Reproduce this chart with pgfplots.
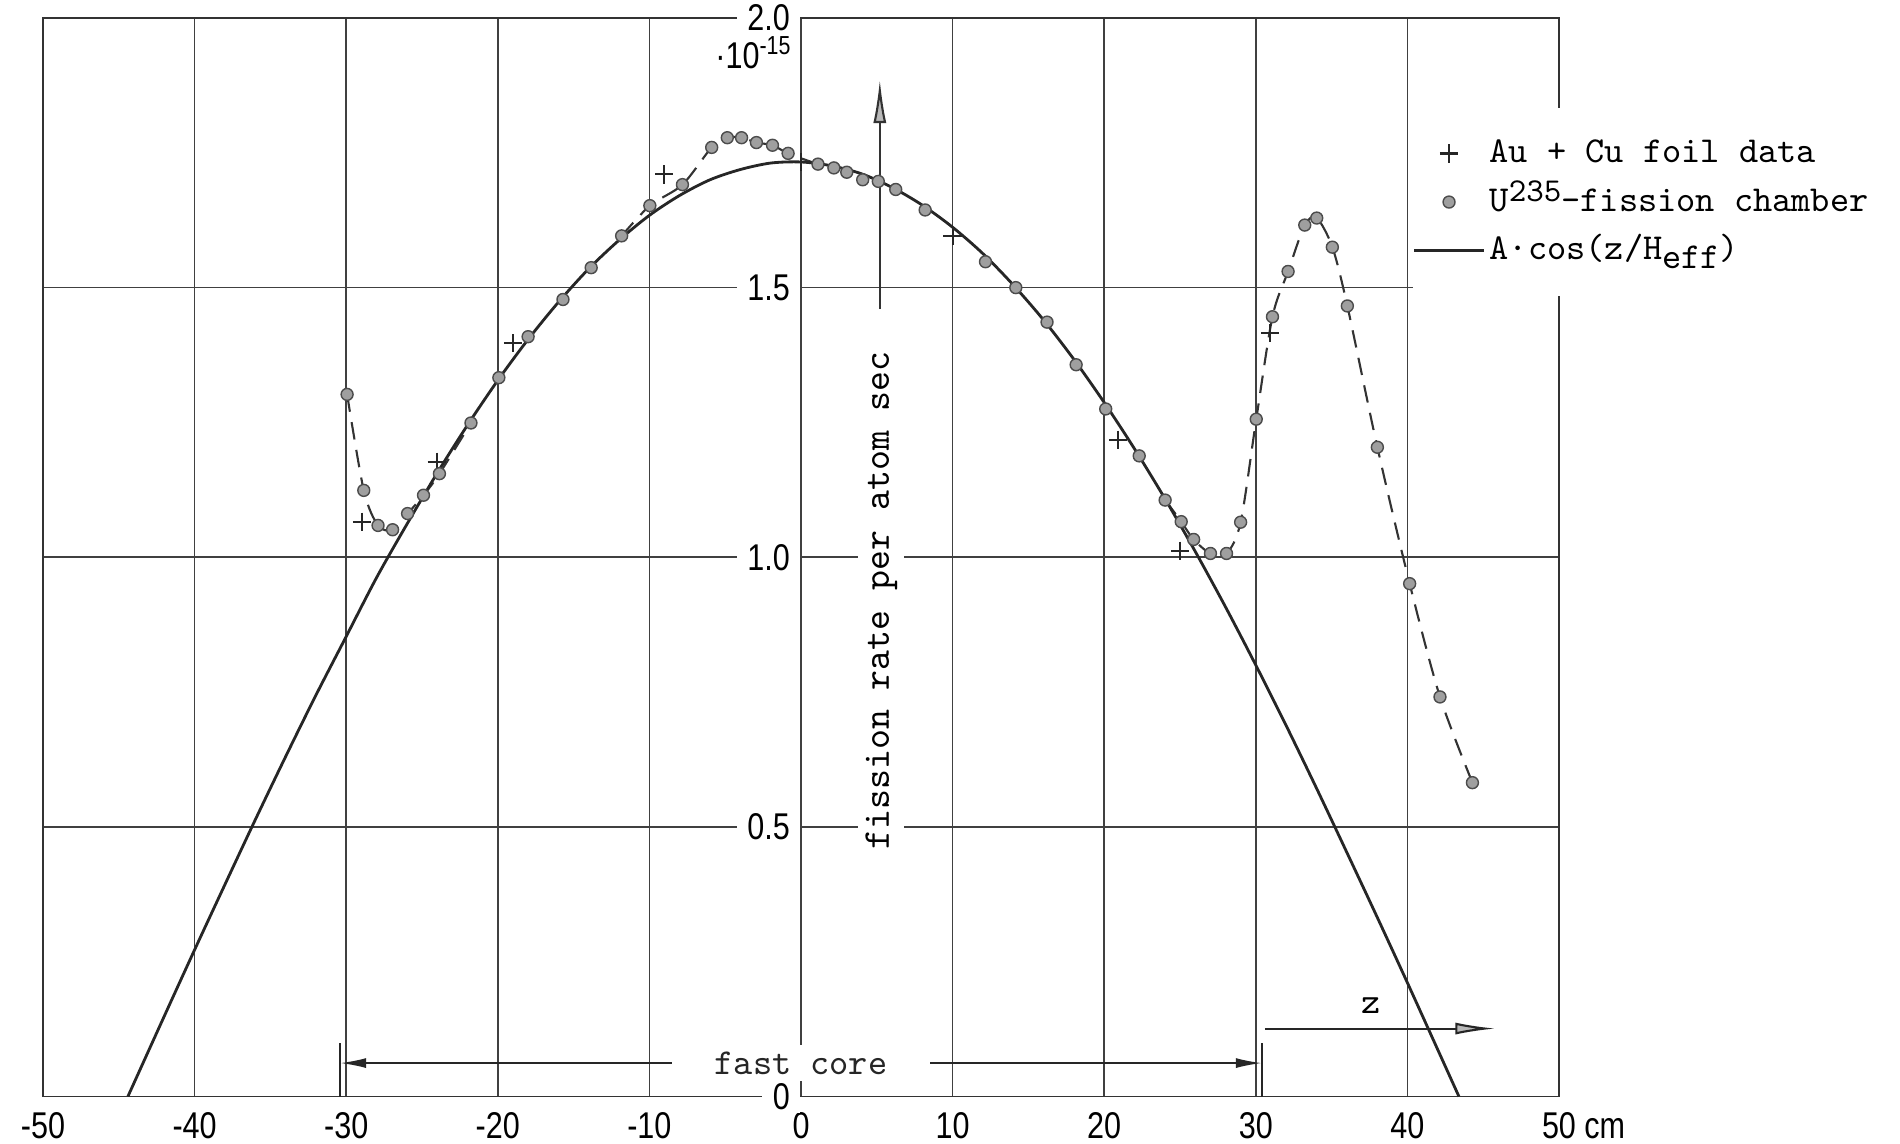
\documentclass[border=0pt]{standalone}
\usepackage{fontspec}
\usepackage{pgfplots}
\pgfplotsset{compat=1.18}
\usetikzlibrary{arrows.meta}
\newfontfamily\tickfont{Liberation Sans}[FakeStretch=0.82]
\newcommand\labfont{\fontsize{10.4}{12}\ttfamily}

\begin{document}
\begin{tikzpicture}
\path[use as bounding box] (0,0) rectangle (19cm,11.43cm);
\begin{axis}[
  at={(0.43cm,0.465cm)}, anchor=south west,
  scale only axis, width=15.16cm, height=10.785cm,
  xmin=-50, xmax=50, ymin=0, ymax=2,
  xtick={-50,-40,...,50},
  xticklabels={-50,-40,-30,-20,-10,0,10,20,30,40,50\rlap{ cm}},
  ytick={0,0.5,1,1.5,2},
  yticklabels={0,0.5,1.0,1.5,2.0},
  grid=major,
  grid style={black!75, line width=0.45pt},
  axis line style={black!80, line width=0.5pt},
  major tick length=0pt,
  tick label style={font=\fontsize{10.6}{12}\tickfont},
  xticklabel style={yshift=-1pt},
  yticklabel style={anchor=east, xshift=7.58cm, fill=white, inner xsep=3pt, inner ysep=1pt},
  clip=false,
  legend style={draw=none, fill=white, at={(axis cs:40.3,1.834)}, anchor=north west,
    font=\labfont, inner xsep=0pt, inner ysep=6pt, row sep=0pt,
    cells={anchor=west}, nodes={inner sep=1.2pt, text height=8.3pt, text depth=3.1pt}},
  legend image code/.code={\draw[mark repeat=2,mark phase=2,#1]
    plot coordinates {(0cm,0cm) (0.35cm,0cm) (0.7cm,0cm)};},
]

% dashed lines through the chamber points where they leave the cosine
\addplot[forget plot, black!80, line width=0.6pt, dash pattern=on 5pt off 3pt, smooth] coordinates {
  (-29.94,1.302) (-28.84,1.124) (-27.90,1.059) (-26.94,1.051) (-25.95,1.081)
  (-24.90,1.115) (-23.85,1.155) (-21.77,1.249)
};
\addplot[forget plot, black!80, line width=0.6pt, dash pattern=on 5pt off 3pt, smooth] coordinates {
  (-11.83,1.596) (-9.97,1.652) (-7.82,1.691) (-5.89,1.760) (-4.86,1.778)
  (-3.92,1.778) (-2.94,1.769) (-1.88,1.764) (-0.85,1.749) (1.12,1.729) (2.17,1.722)
};
\addplot[forget plot, black!80, line width=0.6pt, dash pattern=on 5pt off 3pt, smooth] coordinates {
  (24.02,1.106) (25.08,1.066) (25.90,1.033) (27.01,1.007) (28.07,1.007)
  (29.00,1.065) (30.03,1.256) (31.10,1.446) (32.13,1.530) (33.23,1.616)
  (34.02,1.629) (35.05,1.575) (36.04,1.466) (38.02,1.204) (40.15,0.951)
  (42.15,0.741) (44.29,0.582)
};

% A cos(z/H_eff)
\addplot[forget plot, black!85, line width=0.8pt, smooth] coordinates {
  (-44.4,0) (-42,0.149) (-40,0.272) (-38,0.393) (-36,0.513) (-34,0.630)
  (-32,0.744) (-30,0.853) (-28,0.962) (-26,1.061) (-24,1.156) (-22,1.245)
  (-20,1.328) (-18,1.404) (-16,1.473) (-14,1.535) (-12,1.588) (-10,1.634)
  (-8,1.671) (-6,1.700) (-4,1.719) (-2,1.731) (0,1.733) (2,1.726) (4,1.711)
  (6,1.686) (8,1.653) (10,1.612) (12,1.563) (14,1.505) (16,1.440) (18,1.367)
  (20,1.287) (22,1.201) (24,1.109) (26,1.011) (28,0.908) (30,0.800)
  (32,0.688) (34,0.572) (36,0.453) (38,0.333) (40,0.211) (42,0.087) (43.4,0)
};

% Au + Cu foil data
\addplot[forget plot, only marks, mark=+, mark size=2.6pt, mark options={black!85, line width=0.6pt}] coordinates {
  (-28.95,1.066) (-24.03,1.177) (-18.99,1.397) (-9.02,1.710) (0,1.733)
  (10.0,1.596) (20.92,1.218) (25.02,1.012) (30.95,1.416)
};

% U235 fission chamber
\addplot[forget plot, only marks, mark=*, mark size=1.7pt, mark options={fill=gray!75, draw=black!70, line width=0.4pt}] coordinates {
  (-29.94,1.302) (-28.84,1.124) (-27.90,1.059) (-26.94,1.051) (-25.95,1.081)
  (-24.90,1.115) (-23.85,1.155) (-21.77,1.249) (-19.93,1.333) (-18.00,1.409)
  (-15.70,1.478) (-13.84,1.537) (-11.83,1.596) (-9.97,1.652) (-7.82,1.691)
  (-5.89,1.760) (-4.86,1.778) (-3.92,1.778) (-2.94,1.769) (-1.88,1.764)
  (-0.85,1.749) (1.12,1.729) (2.17,1.722) (3.02,1.714) (4.07,1.700)
  (5.10,1.697) (6.25,1.682) (8.19,1.644) (12.17,1.548) (14.17,1.500)
  (16.23,1.436) (18.15,1.357) (20.10,1.275) (22.31,1.188) (24.02,1.106)
  (25.08,1.066) (25.90,1.033) (27.01,1.007) (28.07,1.007) (29.00,1.065)
  (30.03,1.256) (31.10,1.446) (32.13,1.530) (33.23,1.616) (34.02,1.629)
  (35.05,1.575) (36.04,1.466) (38.02,1.204) (40.15,0.951) (42.15,0.741)
  (44.29,0.582)
};

\addlegendimage{only marks, mark=+, mark size=2.6pt, mark options={black!85, line width=0.6pt}}
\addlegendentry{Au + Cu foil data}
\addlegendimage{only marks, mark=*, mark size=1.7pt, mark options={fill=gray!75, draw=black!70, line width=0.4pt}}
\addlegendentry{U\raisebox{0.6ex}{\fontsize{9.5}{10}\selectfont 235}-fission chamber}
\addlegendimage{black!85, line width=0.8pt}
\addlegendentry{A·cos(z/H\raisebox{-0.55ex}{eff})}

% annotations
\node[anchor=east, font=\fontsize{10.6}{12}\tickfont, fill=white, inner sep=1pt]
  at (axis cs:-0.3,1.935) {·10\textsuperscript{-15}};
\node[rotate=90, fill=white, inner sep=2pt, font=\fontsize{10.8}{12}\ttfamily]
  at (axis cs:5.3,0.92) {fission rate per atom sec};
\draw[black!80, line width=0.6pt, -{Latex[length=4.3mm, width=1.3mm, fill=gray!55]}]
  (axis cs:5.2,1.46) -- (axis cs:5.2,1.885);

\draw[black!85, line width=0.5pt] (axis cs:-30.4,0) -- (axis cs:-30.4,0.10);
\draw[black!85, line width=0.5pt] (axis cs:30.4,0) -- (axis cs:30.4,0.10);
\draw[black!85, line width=0.5pt, {Latex[length=2.6mm,width=1mm]}-{Latex[length=2.6mm,width=1mm]}]
  (axis cs:-30.4,0.062) -- (axis cs:30.4,0.062)
  node[midway, fill=white, font=\labfont, inner xsep=12pt, inner ysep=2pt] {fast core};

\draw[black!85, line width=0.6pt, -{Latex[length=4mm, width=1.2mm, fill=gray!55]}]
  (axis cs:30.6,0.126) -- (axis cs:45.8,0.126);
\node[font=\labfont] at (axis cs:37.6,0.168) {z};
\end{axis}
\end{tikzpicture}
\end{document}
